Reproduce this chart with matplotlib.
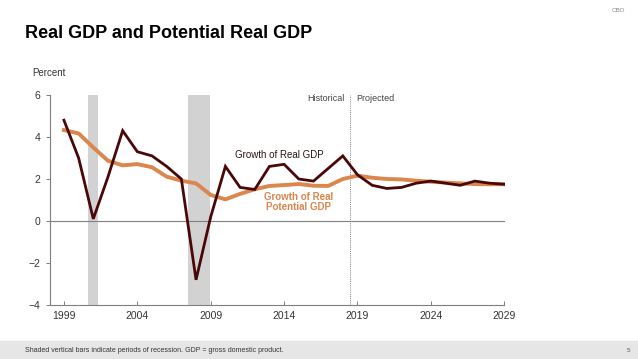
import matplotlib
matplotlib.use("Agg")
import matplotlib.pyplot as plt

years = list(range(1999, 2030))
real_gdp = [4.8, 3.0, 0.1, 2.1, 4.3, 3.3, 3.1, 2.6, 2.0, -2.8, 0.2, 2.6, 1.6, 1.5, 2.6, 2.7,
            2.0, 1.9, 2.5, 3.1, 2.2, 1.7, 1.55, 1.6, 1.8, 1.9, 1.8, 1.7, 1.9, 1.8, 1.75]
potential_gdp = [4.33, 4.17, 3.5, 2.87, 2.65, 2.71, 2.56, 2.11, 1.92, 1.79, 1.24, 1.03, 1.29, 1.51,
                 1.67, 1.71, 1.76, 1.68, 1.67, 2.0, 2.16, 2.06, 2.0, 1.98, 1.92, 1.87, 1.83,
                 1.79, 1.76, 1.75, 1.75]
recessions = [(2000.67, 2001.33), (2007.42, 2008.95)]
xticks = [1999, 2004, 2009, 2014, 2019, 2024, 2029]
yticks = [-4, -2, 0, 2, 4, 6]
split_year = 2018.5

FONT = ['Liberation Sans Narrow', 'Liberation Sans', 'DejaVu Sans']
plt.rcParams['font.family'] = FONT

DARK = '#4a0707'
ORANGE = '#da864c'
GRAY = '#7f7f7f'

fig = plt.figure(figsize=(6.38, 3.59), dpi=100)
ax = fig.add_axes([50/638, 1-305/359, 455/638, 210/359])

for a, b in recessions:
    ax.axvspan(a, b, color='#d2d2d2', lw=0, zorder=0)

ax.axhline(0, color=GRAY, lw=0.8, zorder=1)
ax.axvline(split_year, color=GRAY, lw=0.7, ls=(0, (1, 1.2)), zorder=1)

ax.plot(years, potential_gdp, color=ORANGE, lw=2.8, zorder=3, solid_joinstyle='round')
ax.plot(years, real_gdp, color=DARK, lw=2.0, zorder=4, solid_joinstyle='miter')

ax.set_xlim(1998.05, 2029.05)
ax.set_ylim(-4, 6)
ax.set_xticks(xticks)
ax.set_yticks(yticks)
ax.set_yticklabels([str(v).replace('-', '\u2212') for v in yticks])
for s in ['top', 'right']:
    ax.spines[s].set_visible(False)
ax.spines['left'].set_color(GRAY)
ax.spines['left'].set_linewidth(0.8)
ax.spines['bottom'].set_color(GRAY)
ax.spines['bottom'].set_linewidth(0.8)
ax.spines['bottom'].set_bounds(1998.05, 2029)
ax.tick_params(axis='y', direction='out', length=3, width=0.7, color=GRAY,
               labelsize=7.5, labelcolor='#333333', pad=4)
ax.tick_params(axis='x', direction='in', length=3, width=0.7, color=GRAY,
               labelsize=7.5, labelcolor='#333333', pad=4)

ax.text(split_year - 0.4, 5.85, 'Historical', ha='right', va='center', fontsize=6.5, color='#444444')
ax.text(split_year + 0.4, 5.85, 'Projected', ha='left', va='center', fontsize=6.5, color='#444444')
ax.text(2013.7, 3.14, 'Growth of Real GDP', ha='center', va='center', fontsize=7, color='#2a1414')
ax.text(2015.0, 0.9, 'Growth of Real\nPotential GDP', ha='center', va='center', fontsize=7,
        color=ORANGE, fontweight='bold', linespacing=1.1)

fig.text(25/638, 1-33/359, 'Real GDP and Potential Real GDP', ha='left', va='center',
         fontsize=13, fontweight='bold', family=['Liberation Sans', 'DejaVu Sans'], color='black')
fig.text(32/638, 1-73/359, 'Percent', ha='left', va='center', fontsize=7, color='#333333')
fig.text(625/638, 1-10/359, 'CBO', ha='right', va='center', fontsize=4.5, color='#888888',
         family=['Liberation Sans', 'DejaVu Sans'])

fig.patches.append(plt.Rectangle((0, 0), 1, 18/359, transform=fig.transFigure,
                                 color='#e6e6e6', zorder=0))
fig.text(25/638, 9/359, 'Shaded vertical bars indicate periods of recession. GDP = gross domestic product.',
         ha='left', va='center', fontsize=5, color='#333333', family=['Liberation Sans', 'DejaVu Sans'])
fig.text(630/638, 9/359, '5', ha='right', va='center', fontsize=4.5, color='#555555')

fig.savefig('out.png', dpi=100)
